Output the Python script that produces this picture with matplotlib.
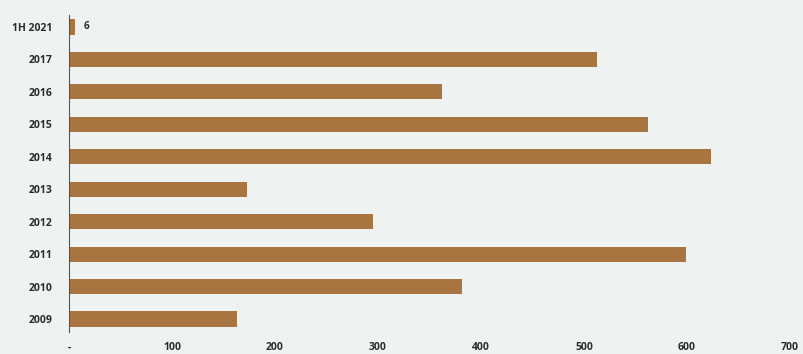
import matplotlib
matplotlib.use("Agg")
import matplotlib.pyplot as plt

categories = ["2009", "2010", "2011", "2012", "2013", "2014", "2015", "2016", "2017", "1H 2021"]
values = [163, 382, 599, 295, 173, 623, 562, 362, 513, 6]
xticks = [0, 100, 200, 300, 400, 500, 600, 700]
xtick_labels = ["-", "100", "200", "300", "400", "500", "600", "700"]

bg = "#eef2f0"
bar_color = "#a8743f"
text_color = "#2b2b2b"

plt.rcParams['font.family'] = ['Open Sans', 'DejaVu Sans']

fig = plt.figure(figsize=(8.04, 3.54), dpi=100, facecolor=bg)
ax = fig.add_axes([0.0858, 0.062, 0.8968, 0.896])
ax.set_facecolor(bg)

y = list(range(len(categories)))
ax.barh(y, values, height=0.47, color=bar_color)
ax.text(values[-1] + 8, y[-1], "6", va="center", ha="left", fontsize=7,
        fontweight="bold", color=text_color)

ax.set_xlim(0, 700)
ax.set_ylim(-0.4, 9.37)
ax.set_yticks(y)
ax.set_yticklabels(categories)
ax.set_xticks(xticks)
ax.set_xticklabels(xtick_labels)
for lab in ax.get_xticklabels() + ax.get_yticklabels():
    lab.set_fontweight("bold")
    lab.set_fontsize(7.5)
    lab.set_color(text_color)
ax.tick_params(axis="both", length=0)
ax.tick_params(axis="y", pad=12)
ax.tick_params(axis="x", pad=7)

for s in ["top", "right", "bottom"]:
    ax.spines[s].set_visible(False)
ax.spines["left"].set_color("#555555")
ax.spines["left"].set_linewidth(0.8)

fig.savefig("out.png", dpi=100, facecolor=bg)
